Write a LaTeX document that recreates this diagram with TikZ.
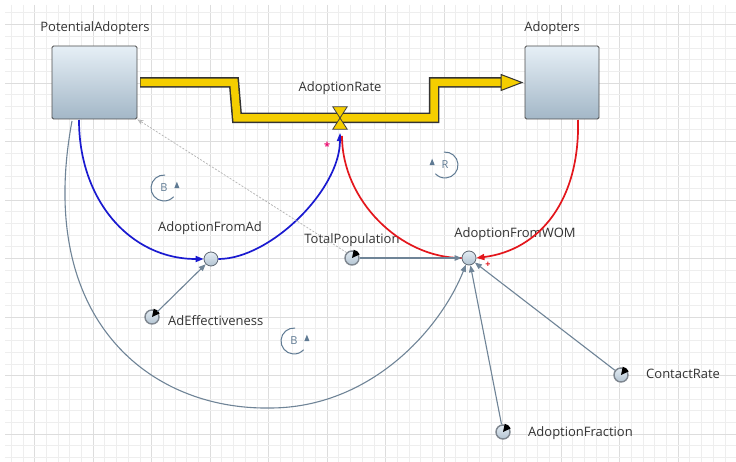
\documentclass[tikz,border=0pt]{standalone}
\usepackage{fontspec}
\setmainfont{Open Sans}
\usetikzlibrary{arrows.meta}
\definecolor{pipeY}{HTML}{F5CE00}
\definecolor{stockTop}{HTML}{E6EFF6}
\definecolor{stockBot}{HTML}{A3B7C7}
\definecolor{auxTop}{HTML}{E4ECF3}
\definecolor{auxBot}{HTML}{B3C4D2}
\definecolor{auxDraw}{HTML}{5E6873}
\definecolor{linkC}{HTML}{6F8497}
\definecolor{txt}{HTML}{333333}
\definecolor{blueC}{HTML}{1A1AD0}
\definecolor{redC}{HTML}{E3161C}
\definecolor{loopC}{HTML}{5F7A93}
\definecolor{gridMinor}{HTML}{EEEEEE}
\definecolor{gridMajor}{HTML}{DDDDDD}
\begin{document}
\begin{tikzpicture}[x=1pt,y=-1pt,
  stock/.style={draw=black!70, line width=0.8pt, rounded corners=1.5pt,
    top color=stockTop, bottom color=stockBot, inner sep=0, minimum height=73pt},
  aux/.style={circle, draw=auxDraw, line width=0.8pt, top color=auxTop,
    bottom color=auxBot, minimum size=14pt, inner sep=0},
  param/.style={circle, draw=auxDraw!80, line width=1.4pt, top color=auxTop,
    bottom color=auxBot, minimum size=14pt, inner sep=0},
  lbl/.style={text=txt, font=\fontsize{13}{15}\selectfont, inner sep=0},
  link/.style={draw=linkC, line width=1.1pt, -{Triangle[length=7pt,width=5.5pt]}},
  bluelink/.style={draw=blueC, line width=1.7pt, -{Triangle[length=8pt,width=6pt]}},
  redlink/.style={draw=redC, line width=1.7pt, -{Triangle[length=8pt,width=6pt]}},
  looplbl/.style={circle, minimum size=26pt, inner sep=0, outer sep=0, text=loopC,
    font=\fontsize{11}{12}\selectfont},
  loopline/.style={draw=loopC, line width=1pt}
]
\useasboundingbox (0,0) rectangle (736,462);
\fill[white] (0,0) rectangle (736,462);
% grid
\foreach \i in {0,...,62}{
  \pgfmathsetmacro{\xx}{11.1+\i*11.7}
  \pgfmathtruncatemacro{\mm}{mod(\i,5)}
  \ifnum\mm=2 \draw[gridMajor, line width=0.8pt] (\xx,5) -- (\xx,462);
  \else \draw[gridMinor, line width=0.6pt] (\xx,5) -- (\xx,462); \fi
}
\foreach \j in {1,...,39}{
  \pgfmathsetmacro{\yy}{1.1+\j*11.7}
  \pgfmathtruncatemacro{\mm}{mod(\j,5)}
  \ifnum\mm=2 \draw[gridMajor, line width=0.8pt] (5,\yy) -- (736,\yy);
  \else \draw[gridMinor, line width=0.6pt] (5,\yy) -- (736,\yy); \fi
}

% stocks
\node[stock, minimum width=85pt] (pa) at (94.5,82.5) {};
\node[stock, minimum width=74pt] (ad) at (562,82.5) {};
\node[lbl] (palbl) at (95,28) {PotentialAdopters};
\node[lbl] (adlbl) at (552,28) {Adopters};

% flow pipe
\coordinate (p0) at (140,82.5);
\coordinate (p1) at (234,82.5);
\coordinate (p2) at (237,118);
\coordinate (p3) at (434,118);
\coordinate (p4) at (434,82.5);
\coordinate (p5) at (503,82.5);
\draw[black!80, line width=10.5pt, line join=miter] (p0) -- (p1) -- (p2) -- (p3) -- (p4) -- (p5);
\draw[pipeY, line width=7.5pt, line join=miter] ([xshift=0.5pt]p0) -- (p1) -- (p2) -- (p3) -- (p4) -- ([xshift=1pt]p5);
\filldraw[fill=pipeY, draw=black!80, line width=1pt, line join=miter]
  (501,74.5) -- (522,82.5) -- (501,90.5) -- cycle;

% valve
\node[inner sep=0, minimum width=14pt, minimum height=22pt] (valve) at (340,118) {};
\filldraw[fill=pipeY, draw=black!75, line width=0.8pt]
  (valve.north west) -- (valve.north east) -- (valve.center) -- cycle;
\filldraw[fill=pipeY, draw=black!75, line width=0.8pt]
  (valve.south west) -- (valve.south east) -- (valve.center) -- cycle;
\node[lbl] (arlbl) at (340,88) {AdoptionRate};
\coordinate (vin) at (340,133);
\coordinate (vinr) at (342,136);

% auxiliaries
\node[aux] (afa) at (211,259) {};
\node[lbl] (afalbl) at (210,228) {AdoptionFromAd};
\node[aux] (wom) at (469,258) {};
\node[lbl] (womlbl) at (515,234) {AdoptionFromWOM};

% parameters
\node[param] (tp) at (352,258) {};
\node[lbl] (tplbl) at (352,240) {TotalPopulation};
\node[param] (ae) at (152,317) {};
\node[lbl, anchor=west] (aelbl) at (168,321) {AdEffectiveness};
\node[param] (cr) at (621,375) {};
\node[lbl, anchor=west] (crlbl) at (646,374) {ContactRate};
\node[param] (af) at (503,432) {};
\node[lbl, anchor=west] (aflbl) at (528,433) {AdoptionFraction};
\foreach \n in {tp,ae,cr,af}{
  \fill[black] (\n.center) -- ++(25:8.5pt) arc[start angle=25, end angle=78, radius=8.5pt] -- cycle;
}

% links
\coordinate (pab) at (79,120);
\coordinate (pag) at (72,121);
\coordinate (adb) at (578,120);
\draw[bluelink] (pab) .. controls (79,200) and (130,259) .. (afa.west);
\draw[bluelink] (afa.east) .. controls (270,259) and (340,190) .. (vin);
\draw[redlink] (adb) .. controls (580,200) and (540,250) .. (wom.east);
\draw[draw=redC, line width=1.7pt] (wom.west) .. controls (400,258) and (342,200) .. (vinr);
\draw[link] (pag) .. controls (35,320) and (150,410) .. (270,408)
  .. controls (370,408) and (440,330) .. (wom.-115);
\draw[draw=black!30, line width=0.7pt, dash pattern=on 2pt off 1.5pt,
  -{Stealth[open, length=6pt, width=5pt]}] (tp.135) -- (pa.south east);
\draw[link] (tp) -- (wom);
\draw[link] (ae) -- (afa);
\draw[link] (af) -- (wom);
\draw[link] (cr) -- (wom);

% polarity marks
\node[text=magenta!70!red, font=\fontsize{11}{12}\selectfont\bfseries, inner sep=0] (star) at (327,146) {*};
\node[text=redC, font=\fontsize{9}{10}\selectfont\bfseries, inner sep=0] (plus) at (488,265) {+};

% loop markers
\node[looplbl] (b1) at (164,188) {B};
\draw[loopline] (b1.85) arc[start angle=85, end angle=318, radius=13pt];
\fill[loopC] (b1.8) ++(0,-4.5) -- ++(-2.6,6.5) -- ++(5.2,0) -- cycle;
\node[looplbl] (b2) at (294,341) {B};
\draw[loopline] (b2.85) arc[start angle=85, end angle=318, radius=13pt];
\fill[loopC] (b2.8) ++(0,-4.5) -- ++(-2.6,6.5) -- ++(5.2,0) -- cycle;
\node[looplbl] (r1) at (445,165) {R};
\draw[loopline] (r1.95) arc[start angle=95, end angle=-138, radius=13pt];
\fill[loopC] (r1.172) ++(0,-4.5) -- ++(-2.6,6.5) -- ++(5.2,0) -- cycle;
\end{tikzpicture}
\end{document}
